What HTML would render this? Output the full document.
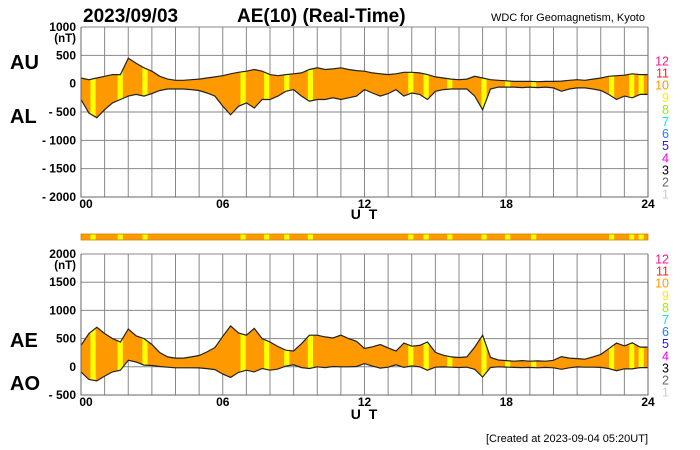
<!DOCTYPE html>
<html><head><meta charset="utf-8">
<style>
body{margin:0;background:#fff;}
svg{display:block;font-family:"Liberation Sans",Arial,sans-serif;font-weight:bold;}
</style></head>
<body>
<svg id="chart" width="700" height="450" viewBox="0 0 700 450">
<defs>
<clipPath id="clipTop"><path id="clipTopPath"/></clipPath>
<clipPath id="clipBot"><path id="clipBotPath"/></clipPath>
</defs>
<text x="83" y="22" font-size="19">2023/09/03</text>
<text x="237" y="22" font-size="19">AE(10) (Real-Time)</text>
<text x="645" y="21" font-size="11" font-weight="normal" text-anchor="end">WDC for Geomagnetism, Kyoto</text>
<text x="10" y="69" font-size="20">AU</text>
<text x="10" y="123" font-size="20">AL</text>
<text x="10" y="347" font-size="20">AE</text>
<text x="10" y="390" font-size="20">AO</text>
<g id="top"></g>
<g id="bot"></g>
<text x="365" y="219" font-size="14" text-anchor="middle" letter-spacing="2">U T</text>
<text x="365" y="419" font-size="14" text-anchor="middle" letter-spacing="2">U T</text>
<text x="648" y="442" font-size="11" font-weight="normal" text-anchor="end">[Created at 2023-09-04 05:20UT]</text>
<g id="legend1"></g>
<g id="legend2"></g>
</svg>
<script>
// 20-minute samples from 00:00 to 24:00
const auValues = [
 100,70,100,130,160,160,450,360,280,
 220,130,80,60,60,70,80,100,120,
 140,175,200,220,250,220,160,140,160,
 175,190,250,280,250,260,280,250,230,
 220,190,175,160,175,200,200,190,160,
 120,100,80,70,80,130,100,70,60,
 50,40,40,40,35,40,40,45,60,
 70,60,80,100,130,140,150,175,160,
 160];
const alValues = [
 -280,-520,-600,-460,-340,-280,-220,-190,-220,
 -175,-120,-95,-95,-95,-105,-120,-165,-220,
 -400,-550,-400,-340,-430,-280,-280,-220,-135,
 -105,-220,-310,-280,-280,-250,-280,-250,-220,
 -105,-165,-220,-175,-105,-220,-165,-190,-280,
 -135,-105,-95,-95,-95,-220,-460,-95,-60,
 -60,-60,-70,-60,-70,-60,-75,-135,-95,
 -75,-75,-95,-120,-190,-280,-220,-250,-190,
 -190];
const yellowHours = [0.4,1.55,2.6,6.75,7.75,8.6,9.6,13.85,14.5,15.5,16.95,17.95,19.05,22.35,23.2,23.6];
const topTicks = [1000,500,0,-500,-1000,-1500,-2000];
const botTicks = [2000,1500,1000,500,0,-500];
const xTickLabels = ["00","06","12","18","24"];
const legendLabels = ["12","11","10","9","8","7","6","5","4","3","2","1"];
const legendColors = ["#ff1493","#ff2020","#ff9900","#ffee00","#99ee00","#00eecc","#1a7fff","#2a10ff","#ee00ee","#000000","#666666","#cccccc"];

const NS="http://www.w3.org/2000/svg";
const X0=81,X1=648;
function xs(h){return X0+(X1-X0)*h/24;}
function mk(tag,attrs,parent){const e=document.createElementNS(NS,tag);for(const k in attrs)e.setAttribute(k,attrs[k]);parent.appendChild(e);return e;}
const stepH=24/(auValues.length-1);
const aeValues=auValues.map((v,i)=>v-alValues[i]);
const aoValues=auValues.map((v,i)=>(v+alValues[i])/2);
const SW=xs(0.22)-X0;

function panel(g,yTop,yBot,vMax,vMin,ticks,upper,lower,clipId,clipPathId,nt){
  const ys=v=>yTop+(yBot-yTop)*(vMax-v)/(vMax-vMin);
  for(let h=0;h<=24;h++){const l=mk('line',{x1:xs(h),x2:xs(h),y1:yTop,y2:yBot,stroke:'#888','stroke-width':1},g);
    }
  ticks.forEach((t,i)=>{
    const l=mk('line',{x1:X0,x2:X1,y1:ys(t),y2:ys(t),stroke:'#888','stroke-width':1},g);
    
    const tx=mk('text',{x:76,y:ys(t)+4,'font-size':12,'text-anchor':'end'},g);
    tx.textContent=(t<0?'- '+(-t):String(t));
    
  });
  const u=mk('text',{x:76,y:ys(ticks[0])+15,'font-size':11.5,'text-anchor':'end'},g);u.textContent=nt;
  
  let d='';
  upper.forEach((v,i)=>{d+=(i?'L':'M')+xs(i*stepH).toFixed(1)+' '+ys(v).toFixed(1);});
  for(let i=lower.length-1;i>=0;i--)d+='L'+xs(i*stepH).toFixed(1)+' '+ys(lower[i]).toFixed(1);
  d+='Z';
  document.getElementById(clipPathId).setAttribute('d',d);
  const area=mk('path',{d:d,fill:'#ff9900'},g);
  
  const cg=mk('g',{'clip-path':'url(#'+clipId+')'},g);
  yellowHours.forEach(h=>{const r=mk('rect',{x:xs(h),y:yTop,width:SW,height:yBot-yTop,fill:'#ffff00'},cg);
    });
  [upper,lower].forEach((arr,k)=>{
    let p='';arr.forEach((v,i)=>{p+=(i?'L':'M')+xs(i*stepH).toFixed(1)+' '+ys(v).toFixed(1);});
    const ln=mk('path',{d:p,fill:'none',stroke:'#222','stroke-width':1.2},g);
    
  });
  const ax=mk('polyline',{points:`${X0},${yTop} ${X0},${yBot} ${X1},${yBot} ${X1},${yTop}`,fill:'none',stroke:'#666','stroke-width':1},g);
  
  xTickLabels.forEach((s,i)=>{const tx=mk('text',{x:xs(i*6)+(i==0?5:0),y:yBot+11,'font-size':12,'text-anchor':'middle'},g);tx.textContent=s;
    });
}
panel(document.getElementById('top'),27,197,1000,-2000,topTicks,auValues,alValues,'clipTop','clipTopPath','(nT)');
panel(document.getElementById('bot'),254,395,2000,-500,botTicks,aeValues,aoValues,'clipBot','clipBotPath','(nT)');

const bg=document.getElementById('bot');
const strip=mk('rect',{x:X0,y:234,width:X1-X0,height:6,fill:'#ff9900',stroke:'#cc8a00','stroke-width':0.8},bg);

yellowHours.forEach(h=>{const r=mk('rect',{x:xs(h),y:234.5,width:SW,height:5,fill:'#ffff00'},bg);
  });

function legend(g,y0){legendLabels.forEach((s,i)=>{const t=mk('text',{x:669,y:y0+i*12.1+4.5,'font-size':12.5,'font-weight':'normal','text-anchor':'end',fill:legendColors[i]},g);t.textContent=s;
  });}
legend(document.getElementById('legend1'),61);
legend(document.getElementById('legend2'),259);
</script>
</body></html>
